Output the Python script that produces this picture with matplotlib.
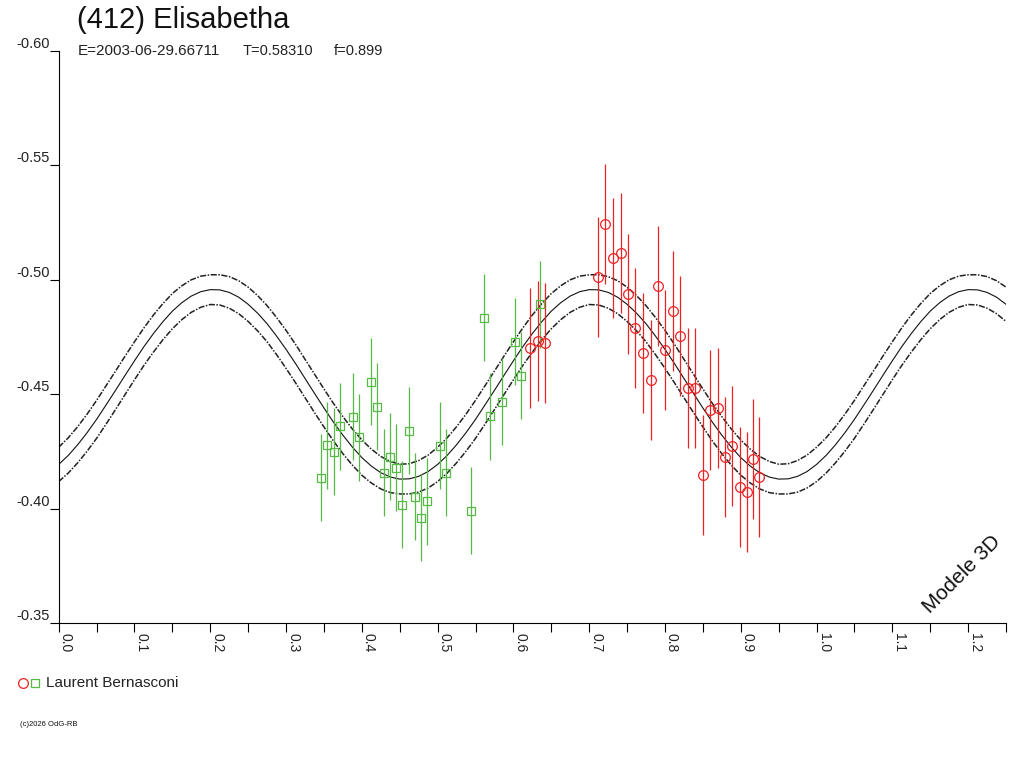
import matplotlib.pyplot as plt
from matplotlib.lines import Line2D
import numpy as np

plt.rcParams['font.family'] = ['Liberation Sans', 'DejaVu Sans']

titre = '(412) Elisabetha'
epoque = 'E=2003-06-29.66711'
periode = 'T=0.58310'
fraction = 'f=0.899'
observateur = 'Laurent Bernasconi'

# model curve read every 0.0125 in phase over one half period (0 -> 0.4875),
# the light curve repeats itself every 0.5 in phase
phase_modele = np.round(np.arange(0, 1.2501, 0.0125), 4)
modele_demi = [-0.4193, -0.4232, -0.4279, -0.4332, -0.4390, -0.4453, -0.4517, -0.4582,
               -0.4646, -0.4708, -0.4765, -0.4817, -0.4863, -0.4900, -0.4929, -0.4948,
               -0.4957, -0.4956, -0.4945, -0.4924, -0.4893, -0.4854, -0.4808, -0.4754,
               -0.4696, -0.4634, -0.4569, -0.4504, -0.4440, -0.4378, -0.4321, -0.4269,
               -0.4223, -0.4186, -0.4157, -0.4138, -0.4129, -0.4130, -0.4141, -0.4162]
# half width of the dash-dot envelope
largeur_demi = [0.0075, 0.0077, 0.0079, 0.0081, 0.0083, 0.0084, 0.0084, 0.0084,
                0.0083, 0.0082, 0.0081, 0.0079, 0.0077, 0.0074, 0.0071, 0.0068,
                0.0065, 0.0066, 0.0069, 0.0072, 0.0075, 0.0077, 0.0079, 0.0081,
                0.0083, 0.0084, 0.0084, 0.0084, 0.0083, 0.0082, 0.0081, 0.0079,
                0.0077, 0.0074, 0.0071, 0.0068, 0.0065, 0.0066, 0.0069, 0.0072]

# session 1 (green squares)
phase_vert = [0.3465, 0.3544, 0.3629, 0.3712, 0.3880, 0.3959, 0.4121, 0.4204, 0.4293, 0.4372,
              0.4451, 0.4534, 0.4619, 0.4702, 0.4785, 0.4864, 0.5028, 0.5115, 0.5437, 0.5608,
              0.5692, 0.5850, 0.6021, 0.6101, 0.6347]
mag_vert = [-0.4135, -0.4277, -0.4249, -0.4360, -0.4402, -0.4312, -0.4555, -0.4445, -0.4157, -0.4227,
            -0.4179, -0.4017, -0.4341, -0.4052, -0.3960, -0.4033, -0.4274, -0.4157, -0.3991, -0.4834,
            -0.4403, -0.4467, -0.4729, -0.4580, -0.4894]
err_vert = 0.019

# session 2 (red circles)
phase_rouge = [0.6223, 0.6321, 0.6421, 0.7117, 0.7213, 0.7311, 0.7416, 0.7513, 0.7609, 0.7707,
               0.7812, 0.7908, 0.8001, 0.8102, 0.8203, 0.8298, 0.8401, 0.8498, 0.8595, 0.8696,
               0.8797, 0.8889, 0.8990, 0.9087, 0.9158, 0.9245]
mag_rouge = [-0.4701, -0.4734, -0.4722, -0.5014, -0.5245, -0.5097, -0.5118, -0.4937, -0.4788, -0.4679,
             -0.4561, -0.4973, -0.4693, -0.4865, -0.4756, -0.4529, -0.4529, -0.4147, -0.4431, -0.4441,
             -0.4224, -0.4274, -0.4096, -0.4074, -0.4215, -0.4138]
err_rouge = 0.0262

vert = '#55bb44'
rouge = '#ee2222'

fig = plt.figure(figsize=(10.24, 7.68), dpi=100)
ax = fig.add_axes([58.7 / 1024, 1 - 623 / 768, (1006 - 58.7) / 1024, (623 - 51) / 768])

# repeat the half period over 0 -> 1.25
modele = np.array(modele_demi * 2 + modele_demi[:21])
demi_largeur = np.array(largeur_demi * 2 + largeur_demi[:21])
ax.plot(phase_modele, modele, color='#111111', lw=0.8)
ax.plot(phase_modele, modele - demi_largeur, color='#222222', lw=1.1, dashes=(4, 1, 1, 1))
ax.plot(phase_modele, modele + demi_largeur, color='#222222', lw=1.1, dashes=(4, 1, 1, 1))

ax.errorbar(phase_vert, mag_vert, yerr=err_vert, fmt='s', ms=5.8, mfc='none', mec=vert,
            mew=0.9, ecolor=vert, elinewidth=0.9, capsize=0)
ax.errorbar(phase_rouge, mag_rouge, yerr=err_rouge, fmt='o', ms=7, mfc='none', mec=rouge,
            mew=0.9, ecolor=rouge, elinewidth=0.9, capsize=0)

ax.set_xlim(0, 1.25)
ax.set_ylim(-0.35, -0.60)
ax.spines['top'].set_visible(False)
ax.spines['right'].set_visible(False)
for s in ['left', 'bottom']:
    ax.spines[s].set_linewidth(0.8)
    ax.spines[s].set_color('black')

ax.set_xticks(np.arange(0, 1.21, 0.1))
ax.set_xticks(np.arange(0.05, 1.26, 0.1), minor=True)
ax.set_xticklabels([f'{v:.1f}' for v in np.arange(0, 1.21, 0.1)], rotation=-90,
                   ha='left', va='top', fontsize=10, color='#222222')
ax.tick_params(axis='x', which='both', direction='out', length=6.3, width=0.8, pad=1)
ax.set_yticks([-0.60, -0.55, -0.50, -0.45, -0.40, -0.35])
ax.set_yticklabels(['-0.60', '-0.55', '-0.50', '-0.45', '-0.40', '-0.35'], fontsize=10.5,
                   color='#222222')
for lab in ax.get_yticklabels():
    lab.set_va('bottom')
ax.tick_params(axis='y', direction='out', length=6.3, width=0.8, pad=0)

fig.text(77 / 1024, 1 - 28.3 / 768, titre, fontsize=21, va='baseline', ha='left', color='#111111')
fig.text(77.5 / 1024, 1 - 55 / 768, epoque, fontsize=11, va='baseline', ha='left', color='#222222')
fig.text(242.5 / 1024, 1 - 55 / 768, periode, fontsize=10.5, va='baseline', ha='left', color='#222222')
fig.text(333.5 / 1024, 1 - 55 / 768, fraction, fontsize=10.5, va='baseline', ha='left', color='#222222')

fig.text(961.7 / 1024, 1 - 574 / 768, 'Modele 3D', fontsize=15, rotation=45,
         ha='center', va='center', rotation_mode='anchor', color='#111111')

# legend drawn by hand
fig.add_artist(Line2D([23.3 / 1024], [1 - 682.7 / 768], marker='o', ms=7, mfc='none', mec=rouge,
                      mew=0.9, transform=fig.transFigure))
fig.add_artist(Line2D([35.3 / 1024], [1 - 682.7 / 768], marker='s', ms=5.5, mfc='none', mec=vert,
                      mew=0.9, transform=fig.transFigure))
fig.text(46.5 / 1024, 1 - 682.7 / 768, observateur, fontsize=11, va='center', ha='left', color='#222222')

fig.text(20 / 1024, 1 - 725 / 768, '(c)2026 OdG-RB', fontsize=5.5, va='center', ha='left', color='#111111')

fig.savefig('out.png', dpi=100)
